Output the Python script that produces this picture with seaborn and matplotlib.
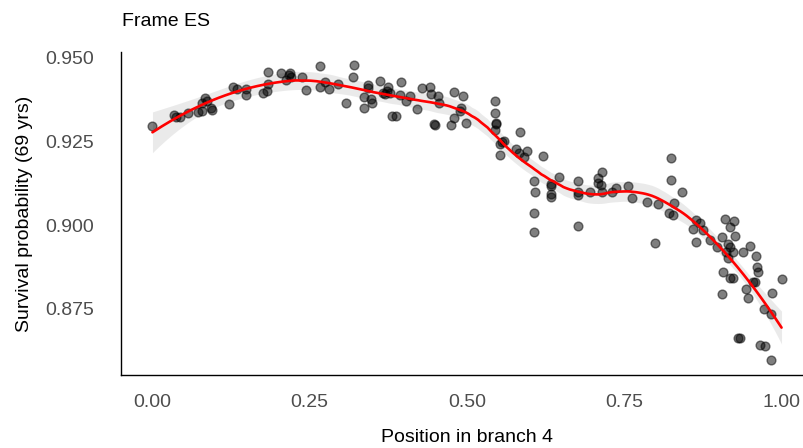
import numpy as np
import pandas as pd
import matplotlib
matplotlib.use("Agg")
import matplotlib.pyplot as plt
import seaborn as sns

# ---- data ----
position = [0.000, 0.034, 0.038, 0.043, 0.057, 0.072, 0.078, 0.079, 0.084, 0.086,
            0.093, 0.094, 0.121, 0.128, 0.135, 0.148, 0.149, 0.176, 0.182, 0.183,
            0.184, 0.204, 0.213, 0.217, 0.219, 0.220, 0.238, 0.244, 0.266, 0.267,
            0.274, 0.281, 0.295, 0.307, 0.319, 0.3205, 0.336, 0.336, 0.342, 0.342,
            0.348, 0.349, 0.361, 0.366, 0.369, 0.373, 0.375, 0.377, 0.380, 0.387,
            0.393, 0.395, 0.403, 0.409, 0.421, 0.428, 0.441, 0.442, 0.448, 0.449,
            0.454, 0.456, 0.474, 0.479, 0.480, 0.489, 0.490, 0.493, 0.499, 0.545,
            0.544, 0.546, 0.546, 0.545, 0.552, 0.555, 0.559, 0.552, 0.578, 0.582,
            0.584, 0.591, 0.596, 0.607, 0.608, 0.607, 0.607, 0.621, 0.633, 0.634,
            0.633, 0.634, 0.646, 0.676, 0.677, 0.677, 0.677, 0.695, 0.7075, 0.7085,
            0.713, 0.714, 0.714, 0.731, 0.7375, 0.756, 0.7615, 0.786, 0.7986, 0.804,
            0.8213, 0.8235, 0.8235, 0.8277, 0.8288, 0.841, 0.8585, 0.8637, 0.8637, 0.871,
            0.8753, 0.887, 0.8977, 0.906, 0.906, 0.907, 0.910, 0.911, 0.915, 0.915,
            0.918, 0.918, 0.918, 0.923, 0.923, 0.924, 0.926, 0.931, 0.934, 0.938,
            0.943, 0.947, 0.9496, 0.954, 0.9575, 0.960, 0.961, 0.962, 0.9655, 0.972,
            0.9735, 0.9825, 0.984, 0.985, 1.000]
survival = [0.9296, 0.9329, 0.9323, 0.9323, 0.9335, 0.9336, 0.9340, 0.9365, 0.9380, 0.9370,
            0.9350, 0.9343, 0.9360, 0.9413, 0.9405, 0.9405, 0.9388, 0.9393, 0.9401, 0.9420,
            0.9456, 0.9453, 0.9433, 0.9448, 0.9453, 0.9440, 0.9440, 0.9403, 0.9473, 0.9413,
            0.9428, 0.9405, 0.9420, 0.9365, 0.9440, 0.9476, 0.9381, 0.9350, 0.9418, 0.9408,
            0.9375, 0.9363, 0.9430, 0.9395, 0.9390, 0.9400, 0.9413, 0.9393, 0.9326, 0.9326,
            0.9388, 0.9428, 0.9370, 0.9385, 0.9345, 0.9408, 0.9413, 0.9390, 0.9302, 0.9297,
            0.9386, 0.9363, 0.9297, 0.9319, 0.9396, 0.9340, 0.9350, 0.9386, 0.9303, 0.9370,
            0.9334, 0.9305, 0.9300, 0.9284, 0.9241, 0.9249, 0.9252, 0.9209, 0.9226, 0.9216,
            0.9277, 0.9202, 0.9221, 0.9130, 0.9098, 0.9035, 0.8980, 0.9207, 0.9122, 0.9115,
            0.9092, 0.9085, 0.9142, 0.8998, 0.9130, 0.9100, 0.9090, 0.9098, 0.9140, 0.9125,
            0.9120, 0.9158, 0.9098, 0.9100, 0.9110, 0.9115, 0.9080, 0.9070, 0.8946, 0.9062,
            0.9037, 0.9200, 0.9133, 0.9030, 0.9065, 0.9100, 0.8988, 0.9015, 0.8951, 0.9007,
            0.8986, 0.8956, 0.8936, 0.8964, 0.8794, 0.8861, 0.9018, 0.8921, 0.8945, 0.8901,
            0.8994, 0.8936, 0.8841, 0.8921, 0.8841, 0.9011, 0.8966, 0.8663, 0.8663, 0.8921,
            0.8809, 0.8782, 0.8938, 0.8831, 0.8831, 0.8908, 0.8876, 0.8861, 0.8643, 0.8750,
            0.8638, 0.8734, 0.8598, 0.8797, 0.8840]

x_ticks = [0.00, 0.25, 0.50, 0.75, 1.00]
x_tick_labels = ["0.00", "0.25", "0.50", "0.75", "1.00"]
y_ticks = [0.875, 0.900, 0.925, 0.950]
y_tick_labels = ["0.875", "0.900", "0.925", "0.950"]

title = "Frame ES"
x_label = "Position in branch 4"
y_label = "Survival probability (69 yrs)"

df = pd.DataFrame({"position": position, "survival": survival})


def loess(x, y, grid, span=0.3):
    x = np.asarray(x, float)
    y = np.asarray(y, float)
    n = len(x)
    q = int(np.floor(span * n))

    def weights_row(x0):
        d = np.abs(x - x0)
        h = np.sort(d)[q - 1]
        w = np.clip(1 - (d / h) ** 3, 0, None) ** 3
        X = np.vstack([np.ones(n), x - x0, (x - x0) ** 2]).T
        XtW = X.T * w
        A = np.linalg.solve(XtW @ X, XtW)
        return A[0]

    L = np.array([weights_row(xi) for xi in x])
    resid = y - L @ y
    delta1 = n - 2 * np.trace(L) + np.sum(L * L)
    sigma2 = np.sum(resid ** 2) / delta1
    Lg = np.array([weights_row(g) for g in grid])
    fit = Lg @ y
    se = np.sqrt(sigma2 * np.sum(Lg ** 2, axis=1))
    return fit, se


grid = np.linspace(min(position), max(position), 200)
fit, se = loess(df["position"], df["survival"], grid, span=0.4)
smooth = pd.DataFrame({"position": grid, "fit": fit,
                       "lo": fit - 1.98 * se, "hi": fit + 1.98 * se})

sns.set_style("white")
plt.rcParams["font.family"] = ["Liberation Sans", "DejaVu Sans"]

fig = plt.figure(figsize=(8.04, 4.48), dpi=100)
ax = fig.add_axes([121 / 804, 73 / 448, 692 / 804, 323 / 448])

ax.fill_between(smooth["position"], smooth["lo"], smooth["hi"],
                color="#999999", alpha=0.2, linewidth=0, zorder=1)
sns.scatterplot(data=df, x="position", y="survival", ax=ax, color="black",
                alpha=0.5, s=40, edgecolor="black", linewidth=1.0, zorder=2)
sns.lineplot(data=smooth, x="position", y="fit", ax=ax, color="#FF0000",
             linewidth=1.9, zorder=3)

ax.set_xlim(-0.05, 1.05)
ax.set_ylim(0.8553, 0.9516)
ax.set_xticks(x_ticks)
ax.set_xticklabels(x_tick_labels)
ax.set_yticks(y_ticks)
ax.set_yticklabels(y_tick_labels)
ax.set_xlabel("")
ax.set_ylabel("")
sns.despine(ax=ax)
for sp in ["left", "bottom"]:
    ax.spines[sp].set_color("black")
    ax.spines[sp].set_linewidth(1.0)
ax.tick_params(axis="both", colors="#333333", labelcolor="#4D4D4D",
               length=5.5, width=1.0, labelsize=14)
ax.tick_params(axis="y", pad=14)
ax.tick_params(axis="x", pad=8)

fig.text(122 / 804, 1 - 22 / 448, title, ha="left", va="center",
         fontsize=14, color="black")
fig.text(467 / 804, 1 - 437 / 448, x_label, ha="center", va="center",
         fontsize=14, color="black")
fig.text(25 / 804, 1 - 213.5 / 448, y_label, ha="center", va="center",
         rotation=90, fontsize=14, color="black")

fig.savefig("out.png", dpi=100)
